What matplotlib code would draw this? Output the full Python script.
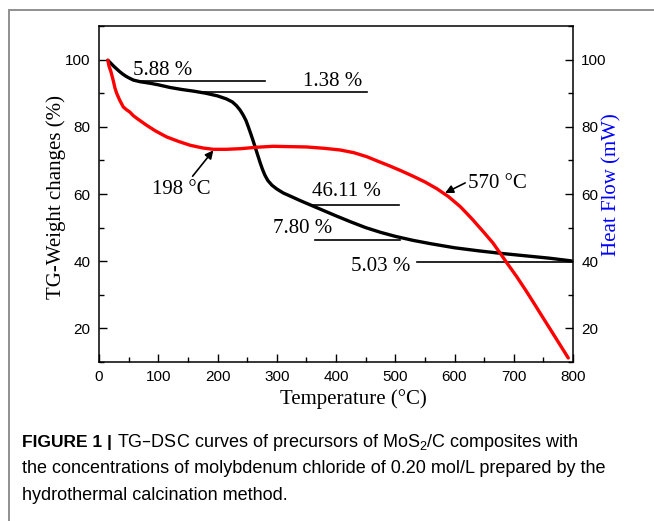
import matplotlib.pyplot as plt
from matplotlib.ticker import MultipleLocator
from matplotlib.patches import Rectangle

# TG curve (black), weight in %
tg_temp = [15, 20, 25, 30, 35, 40, 45, 50, 58, 70, 85, 100, 120, 140, 160, 180,
           200, 215, 225, 232, 238, 243, 248, 252, 256, 260, 264, 268, 272, 276,
           280, 285, 292, 300, 311, 325, 340, 360, 380, 400, 425, 450, 475, 500,
           530, 560, 600, 640, 680, 720, 760, 797]
tg_weight = [99.8, 98.9, 98.0, 97.2, 96.4, 95.7, 95.1, 94.6, 93.9, 93.4, 93.0,
             92.5, 91.7, 91.1, 90.6, 90.0, 89.2, 88.3, 87.4, 86.3, 85.0, 83.6,
             81.9, 80.0, 78.0, 75.9, 73.7, 71.5, 69.3, 67.3, 65.6, 64.0, 62.6,
             61.5, 60.3, 59.2, 58.0, 56.5, 55.0, 53.5, 51.7, 50.0, 48.6, 47.4,
             46.2, 45.2, 44.0, 43.1, 42.3, 41.6, 40.9, 40.1]

# DSC curve (red), heat flow in mW
dsc_temp = [15, 17, 20, 24, 27, 30, 35, 41, 47, 52, 58, 64, 72, 80, 95, 114, 135,
            154, 175, 193, 215, 240, 265, 294, 320, 350, 380, 407, 430, 452, 470,
            490, 510, 530, 550, 570, 590, 610, 630, 650, 665, 677, 690, 705, 720,
            733, 750, 770, 792]
dsc_heat = [99.8, 98.0, 96.5, 93.8, 91.5, 89.9, 87.9, 85.9, 85.0, 84.4, 83.3,
            82.5, 81.5, 80.5, 78.8, 77.0, 75.6, 74.5, 73.7, 73.3, 73.3, 73.5,
            73.9, 74.2, 74.1, 74.0, 73.6, 73.1, 72.3, 71.1, 69.8, 68.4, 66.9,
            65.3, 63.6, 61.6, 59.2, 56.2, 52.5, 48.5, 45.4, 42.4, 39.1, 35.4,
            31.4, 27.8, 23.0, 17.4, 11.2]

# weight-loss steps: label, line start/end temperature, line level
step_labels = ['5.88 %', '1.38 %', '46.11 %', '7.80 %', '5.03 %']
step_t0 = [69, 170, 356, 365, 536]
step_t1 = [280, 452, 506, 508, 800]
step_level = [93.55, 90.4, 56.7, 46.3, 39.8]

# DSC peaks
peak_labels = ['198 °C', '570 °C']
peak_temp = [193, 584]
peak_heat = [73.0, 60.3]

W, H = 654, 521
fig = plt.figure(figsize=(W / 100, H / 100), dpi=100)
ax = fig.add_axes([99 / W, 1 - 362 / H, (573 - 99) / W, (362 - 26) / H])

serif = 'Liberation Serif'
sans = 'Liberation Sans'

ax.plot(tg_temp, tg_weight, color='black', lw=2.4, solid_capstyle='round',
        solid_joinstyle='round', zorder=3)
ax.plot(dsc_temp, dsc_heat, color='#ff0000', lw=2.4, solid_capstyle='round',
        solid_joinstyle='round', zorder=4)

# step lines and labels
text_pos = [(57, 95.3), (344, 92.2), (359.5, 59.4), (293.5, 48.3), (425, 37.2)]
for lab, t0, t1, lv, (tx, ty) in zip(step_labels, step_t0, step_t1, step_level, text_pos):
    ax.plot([t0, t1], [lv, lv], color='black', lw=1.2, zorder=2)
    ax.text(tx, ty, lab, family=serif, fontsize=15, ha='left', va='baseline')

# peak arrows
arrow_from = [(158, 65.3), (618, 63.3)]
label_at = [(139, 61.2), (623, 63.2)]
label_ha = ['center', 'left']
for lab, pt, ph, fr, la, ha in zip(peak_labels, peak_temp, peak_heat, arrow_from, label_at, label_ha):
    ax.annotate('', xy=(pt, ph), xytext=fr,
                arrowprops=dict(arrowstyle='-|>', color='black', lw=1.2,
                                mutation_scale=12, shrinkA=0, shrinkB=0))
    ax.text(la[0], la[1], lab, family=serif, fontsize=15, ha=ha, va='center')

ax.set_xlim(0, 800)
ax.set_ylim(10, 110)
ax.xaxis.set_major_locator(MultipleLocator(100))
ax.xaxis.set_minor_locator(MultipleLocator(50))
ax.yaxis.set_major_locator(MultipleLocator(20))
ax.yaxis.set_minor_locator(MultipleLocator(10))
ax.tick_params(which='both', direction='in', top=False, right=True,
               labelright=True, labelsize=11, width=1)
ax.tick_params(which='major', length=6, pad=6)
ax.tick_params(which='minor', length=3.5)
for lbl in ax.get_xticklabels() + ax.get_yticklabels():
    lbl.set_family(sans)
for s in ax.spines.values():
    s.set_linewidth(1.1)

# axis titles
fig.text(353 / W, 1 - 399 / H, 'Temperature (°C)', family=serif, fontsize=15,
         ha='center', va='center')
fig.text(56 / W, 1 - 197 / H, 'TG-Weight changes (%)', family=serif, fontsize=15,
         rotation=90, ha='center', va='center')
fig.text(612 / W, 1 - 185 / H, 'Heat Flow (mW)', family=serif, fontsize=15,
         color='#0000ff', rotation=90, ha='center', va='center')

# frame around the figure panel
fig.patches.append(Rectangle((9 / W, -0.1), 1.2, 1.1 - 10 / H, transform=fig.transFigure,
                             fill=False, ec='#8f8f8f', lw=1.4))

# caption
cap_y = [447, 473, 500]
cap_size = 13
bold = fig.text(22 / W, 1 - cap_y[0] / H, 'FIGURE 1 |', family=sans,
                weight='bold', fontsize=12.5, va='baseline')
bb = bold.get_window_extent(renderer=fig.canvas.get_renderer())
fig.text(bb.x1 / W, 1 - cap_y[0] / H,
         ' TG–DSC curves of precursors of MoS$_{\\mathregular{2}}$/C composites with',
         family=sans, fontsize=cap_size, va='baseline')
fig.text(22 / W, 1 - cap_y[1] / H,
         'the concentrations of molybdenum chloride of 0.20 mol/L prepared by the',
         family=sans, fontsize=cap_size, va='baseline')
fig.text(22 / W, 1 - cap_y[2] / H, 'hydrothermal calcination method.',
         family=sans, fontsize=cap_size, va='baseline')

fig.savefig('out.png', dpi=100)
